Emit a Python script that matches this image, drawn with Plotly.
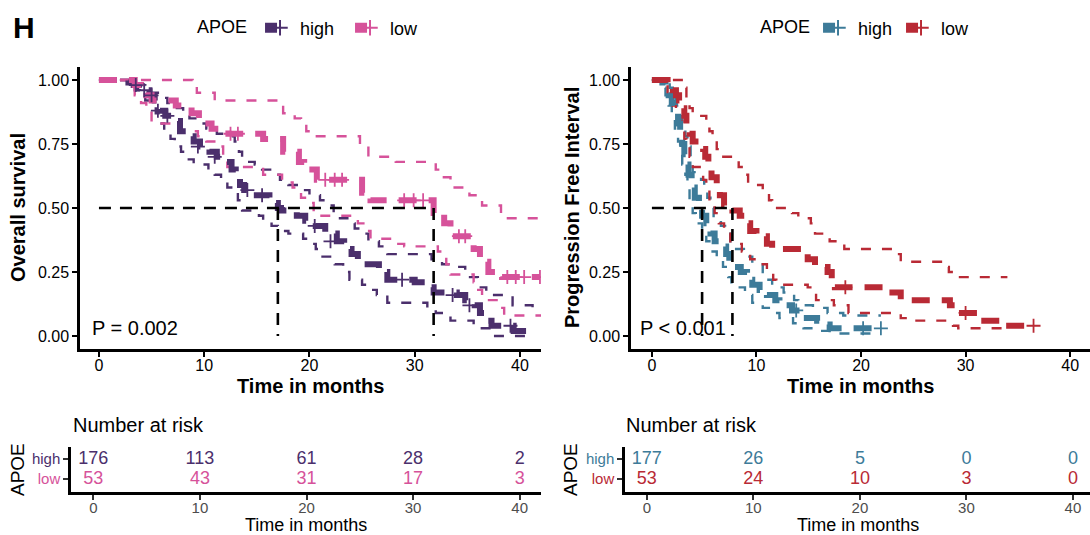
import plotly.graph_objects as go

# ---------------- DATA ----------------
groups = ["high", "low"]
risk_times = [0, 10, 20, 30, 40]

# Overall survival (left panel)
os_high_t = [0, 2.8, 3.3, 3.8, 4.3, 4.8, 5.3, 5.8, 6.3, 7.0, 7.7, 8.4, 9.0, 9.6, 10.5, 11.2, 12.0, 12.6, 13.0, 13.4, 13.8,
             15.0, 16.2, 17.0, 17.3, 18.8, 19.6, 20.6, 21.5, 22.6, 23.3, 24.0, 24.6, 25.2, 26.6, 27.4, 30.0, 31.0, 31.8,
             34.0, 34.8, 35.7, 36.2, 36.7, 37.3, 39.4, 41.2]
os_high_s = [1.0, 0.99, 0.98, 0.97, 0.96, 0.94, 0.92, 0.88, 0.86, 0.84, 0.80, 0.78, 0.76, 0.74, 0.72, 0.70, 0.68, 0.65, 0.62, 0.59, 0.57,
             0.55, 0.52, 0.50, 0.49, 0.47, 0.45, 0.43, 0.40, 0.37, 0.34, 0.32, 0.30, 0.28, 0.25, 0.22, 0.21, 0.19, 0.17,
             0.16, 0.14, 0.12, 0.09, 0.06, 0.04, 0.02, 0.0]
os_high_up_t = [0, 3.2, 3.8, 4.4, 5.6, 6.5, 7.4, 8.0, 8.6, 9.4, 10.2, 11.2, 12.0, 12.9, 13.3, 13.6, 14.8, 15.5, 16.4, 17.2, 18.0,
                19.2, 20.0, 21.0, 21.5, 22.3, 22.9, 23.6, 24.3, 25.0, 25.6, 26.6, 27.4, 31.6, 32.6, 33.8, 34.8, 36.0, 36.8,
                39.3, 41.2]
os_high_up_s = [1.0, 1.0, 0.98, 0.95, 0.93, 0.91, 0.89, 0.87, 0.85, 0.83, 0.81, 0.79, 0.78, 0.76, 0.72, 0.68, 0.67, 0.65, 0.63, 0.61, 0.59,
                0.57, 0.55, 0.53, 0.51, 0.48, 0.46, 0.44, 0.42, 0.40, 0.37, 0.35, 0.32, 0.30, 0.28, 0.27, 0.23, 0.19, 0.16,
                0.12, 0.10]
os_high_lo_t = [0, 2.8, 3.4, 3.9, 4.4, 4.9, 5.4, 5.8, 6.2, 6.8, 7.2, 7.8, 8.3, 9.0, 10.4, 11.0, 11.6, 12.2, 12.8, 13.2, 13.6,
                15.2, 15.6, 16.4, 17.0, 18.0, 19.4, 20.0, 20.6, 21.0, 22.4, 23.2, 23.8, 25.0, 25.8, 26.4, 27.4, 31.2, 32.0,
                33.4, 35.6, 37.4, 41.2]
os_high_lo_s = [1.0, 0.98, 0.96, 0.94, 0.92, 0.90, 0.87, 0.83, 0.80, 0.77, 0.74, 0.72, 0.69, 0.67, 0.65, 0.63, 0.60, 0.58, 0.56, 0.53, 0.49,
                0.47, 0.45, 0.43, 0.41, 0.40, 0.38, 0.36, 0.34, 0.31, 0.28, 0.25, 0.22, 0.20, 0.18, 0.16, 0.13, 0.11, 0.09,
                0.06, 0.03, 0.0, 0.0]
os_high_cens_t = [3.5, 4.3, 5.0, 5.6, 6.5, 9.4, 11.0, 14.1, 15.5, 17.0, 20.5, 22.0, 28.8, 33.6, 35.2, 39.1]
os_high_cens_s = [0.98, 0.96, 0.94, 0.88, 0.86, 0.74, 0.70, 0.57, 0.55, 0.50, 0.43, 0.37, 0.22, 0.16, 0.12, 0.04]

os_low_t = [0, 3.4, 4.0, 4.5, 5.0, 7.3, 8.8, 9.5, 10.1, 10.7, 12.3, 15.6, 17.5, 19.0, 19.5, 20.7, 25.0, 25.8, 31.8, 32.8,
            33.4, 35.6, 36.2, 37.0, 38.3, 41.9]
os_low_s = [1.0, 0.98, 0.96, 0.94, 0.92, 0.90, 0.87, 0.85, 0.83, 0.81, 0.79, 0.77, 0.72, 0.68, 0.65, 0.61, 0.56, 0.53, 0.48, 0.44,
            0.39, 0.34, 0.29, 0.25, 0.23, 0.23]
os_low_up_t = [0, 8.9, 9.3, 11.0, 17.0, 17.5, 18.6, 19.2, 19.7, 20.4, 24.8, 25.6, 28.2, 32.0, 32.6, 33.4, 35.2, 36.4, 38.2,
               38.5, 42.0]
os_low_up_s = [1.0, 0.98, 0.95, 0.92, 0.90, 0.87, 0.85, 0.83, 0.80, 0.78, 0.75, 0.70, 0.68, 0.65, 0.62, 0.58, 0.55, 0.51, 0.48,
               0.46, 0.46]
os_low_lo_t = [0, 3.4, 4.0, 4.5, 5.0, 7.8, 9.4, 10.2, 11.2, 11.8, 12.2, 15.6, 17.4, 18.4, 19.2, 19.8, 20.4, 24.6, 25.4, 25.8,
               28.2, 29.0, 32.2, 32.6, 33.0, 33.4, 35.6, 35.9, 36.4, 38.2, 38.5, 42.0]
os_low_lo_s = [1.0, 0.94, 0.91, 0.88, 0.83, 0.80, 0.78, 0.76, 0.74, 0.69, 0.66, 0.63, 0.60, 0.58, 0.54, 0.52, 0.47, 0.44, 0.41, 0.38,
               0.36, 0.35, 0.33, 0.31, 0.28, 0.24, 0.21, 0.18, 0.14, 0.11, 0.08, 0.08]
os_low_cens_t = [12.5, 13.2, 21.5, 22.4, 23.1, 29.0, 29.9, 30.8, 34.2, 34.8, 38.8, 39.6, 40.4, 41.9]
os_low_cens_s = [0.79, 0.79, 0.61, 0.61, 0.61, 0.53, 0.53, 0.53, 0.39, 0.39, 0.23, 0.23, 0.23, 0.23]

os_medians = [17.0, 31.8]
os_risk_high = [176, 113, 61, 28, 2]
os_risk_low = [53, 43, 31, 17, 3]
os_pvalue = "P = 0.002"

# Progression free interval (right panel)
pfi_high_t = [0, 1.0, 1.3, 1.6, 1.9, 2.2, 2.5, 2.7, 2.9, 3.1, 3.3, 3.5, 3.8, 4.1, 4.5, 4.8, 5.2, 5.6, 6.0, 6.6, 7.1, 7.4,
              7.8, 8.5, 9.1, 9.6, 10.3, 11.0, 11.8, 12.2, 13.4, 14.3, 15.8, 16.3, 17.0, 21.9]
pfi_high_s = [1.0, 0.99, 0.97, 0.94, 0.91, 0.87, 0.83, 0.79, 0.75, 0.71, 0.67, 0.63, 0.58, 0.54, 0.51, 0.47, 0.44, 0.40, 0.37, 0.35, 0.32, 0.29,
              0.27, 0.25, 0.22, 0.20, 0.18, 0.16, 0.14, 0.12, 0.10, 0.07, 0.06, 0.045, 0.03, 0.03]
pfi_high_up_t = [0, 1.4, 1.7, 2.0, 2.3, 2.6, 2.9, 3.2, 3.4, 3.7, 3.9, 4.7, 5.0, 5.3, 5.6, 5.9, 6.6, 7.0, 7.5, 7.7, 8.8, 9.6,
                 10.6, 11.0, 11.5, 12.6, 13.6, 14.0, 15.4, 16.8, 18.3, 21.9]
pfi_high_up_s = [1.0, 1.0, 0.97, 0.94, 0.90, 0.86, 0.82, 0.78, 0.74, 0.68, 0.64, 0.61, 0.58, 0.54, 0.50, 0.46, 0.43, 0.41, 0.37, 0.34, 0.31, 0.28,
                 0.25, 0.22, 0.19, 0.17, 0.14, 0.12, 0.11, 0.09, 0.08, 0.08]
pfi_high_lo_t = [0, 1.0, 1.3, 1.6, 1.9, 2.2, 2.5, 2.7, 2.9, 3.2, 3.4, 3.6, 3.9, 4.2, 4.8, 5.2, 5.5, 6.2, 6.8, 7.3, 7.6, 8.9,
                 9.6, 10.6, 11.4, 12.2, 13.5, 14.5, 16.0, 17.0, 21.9]
pfi_high_lo_s = [1.0, 0.97, 0.94, 0.90, 0.86, 0.81, 0.76, 0.72, 0.67, 0.63, 0.58, 0.53, 0.48, 0.44, 0.41, 0.37, 0.33, 0.30, 0.27, 0.23, 0.19, 0.16,
                 0.13, 0.11, 0.09, 0.07, 0.05, 0.03, 0.02, 0.01, 0.01]
pfi_high_cens_t = [13.8, 20.2, 21.9]
pfi_high_cens_s = [0.10, 0.03, 0.03]

pfi_low_t = [0, 1.5, 2.0, 2.3, 2.6, 2.9, 3.1, 3.3, 3.6, 3.9, 4.9, 5.1, 5.4, 5.7, 6.2, 6.5, 6.9, 7.7, 8.4, 8.9, 9.4, 10.0,
             11.0, 11.5, 14.3, 14.9, 15.6, 16.8, 17.2, 17.5, 22.3, 23.8, 28.5, 29.3, 31.5, 33.5, 36.5]
pfi_low_s = [1.0, 0.98, 0.96, 0.94, 0.92, 0.89, 0.86, 0.83, 0.79, 0.76, 0.73, 0.70, 0.66, 0.62, 0.58, 0.55, 0.51, 0.49, 0.47, 0.44, 0.41, 0.39,
             0.36, 0.34, 0.32, 0.30, 0.27, 0.25, 0.21, 0.19, 0.17, 0.14, 0.12, 0.09, 0.06, 0.04, 0.04]
pfi_low_up_t = [0, 3.0, 3.3, 3.6, 3.9, 5.2, 5.5, 5.8, 6.2, 6.7, 8.3, 8.8, 9.2, 10.6, 11.2, 11.5, 13.4, 14.0, 15.2, 15.6, 17.0,
                18.4, 23.4, 23.8, 27.8, 28.4, 29.0, 34.0]
pfi_low_up_s = [1.0, 0.97, 0.93, 0.89, 0.86, 0.84, 0.80, 0.77, 0.73, 0.70, 0.66, 0.63, 0.59, 0.56, 0.53, 0.50, 0.48, 0.46, 0.44, 0.40, 0.37,
                0.34, 0.32, 0.29, 0.27, 0.25, 0.23, 0.23]
pfi_low_lo_t = [0, 1.5, 2.0, 2.3, 2.6, 2.9, 3.1, 3.3, 3.6, 3.9, 4.9, 5.2, 5.5, 6.0, 6.4, 6.9, 7.5, 8.6, 9.4, 10.0, 11.0, 11.6,
                11.9, 14.9, 15.4, 15.7, 17.4, 18.8, 23.8, 24.4, 28.8, 29.3, 34.0]
pfi_low_lo_s = [1.0, 0.93, 0.90, 0.87, 0.84, 0.81, 0.77, 0.74, 0.70, 0.66, 0.61, 0.57, 0.52, 0.48, 0.44, 0.40, 0.36, 0.33, 0.30, 0.28, 0.25, 0.22,
                0.20, 0.19, 0.16, 0.14, 0.12, 0.09, 0.07, 0.06, 0.04, 0.03, 0.03]
pfi_low_cens_t = [18.5, 30.0, 36.5]
pfi_low_cens_s = [0.19, 0.09, 0.04]

pfi_medians = [4.8, 7.7]
pfi_risk_high = [177, 26, 5, 0, 0]
pfi_risk_low = [53, 24, 10, 3, 0]
pfi_pvalue = "P < 0.001"

# ---------------- STYLE ----------------
FONT = "Liberation Sans, Arial, sans-serif"
W, H = 1090, 535
C_OS = {"high": "#4B2F6C", "low": "#D6529A"}
C_PFI = {"high": "#3D7B99", "low": "#B92A35"}
MAIN_W, MAIN_DASH = 6, "18px,12px"
CI_W, CI_DASH = 2.4, "10px,11px"

def px_x(p):
    return p / W

def px_y(p):
    return 1 - p / H

fig = go.Figure()

def add_panel(xa, ya, colors, curves, medians):
    # confidence bands
    for g in groups:
        c = curves[g]
        for key in ("up", "lo"):
            t, s = c[key]
            fig.add_trace(go.Scatter(x=t, y=s, mode="lines", xaxis=xa, yaxis=ya, showlegend=False,
                                     hoverinfo="skip",
                                     line=dict(shape="hv", color=colors[g], width=CI_W, dash=CI_DASH)))
    # main curves
    for g in groups:
        t, s = curves[g]["main"]
        fig.add_trace(go.Scatter(x=t, y=s, mode="lines", xaxis=xa, yaxis=ya, showlegend=False,
                                 line=dict(shape="hv", color=colors[g], width=MAIN_W, dash=MAIN_DASH)))
    # censor marks
    for g in groups:
        t, s = curves[g]["cens"]
        fig.add_trace(go.Scatter(x=t, y=s, mode="markers", xaxis=xa, yaxis=ya, showlegend=False,
                                 marker=dict(symbol="cross-thin", size=10,
                                             line=dict(color=colors[g], width=1.8))))
    # median lines
    mx, my = [0, max(medians)], [0.5, 0.5]
    for m in medians:
        mx += [None, m, m]
        my += [None, 0.5, 0.0]
    fig.add_trace(go.Scatter(x=mx, y=my, mode="lines", xaxis=xa, yaxis=ya, showlegend=False,
                             line=dict(color="black", width=2.6, dash="12px,9px")))

add_panel("x", "y", C_OS, {
    "high": {"main": (os_high_t, os_high_s), "up": (os_high_up_t, os_high_up_s),
             "lo": (os_high_lo_t, os_high_lo_s), "cens": (os_high_cens_t, os_high_cens_s)},
    "low": {"main": (os_low_t, os_low_s), "up": (os_low_up_t, os_low_up_s),
            "lo": (os_low_lo_t, os_low_lo_s), "cens": (os_low_cens_t, os_low_cens_s)},
}, os_medians)

add_panel("x2", "y2", C_PFI, {
    "high": {"main": (pfi_high_t, pfi_high_s), "up": (pfi_high_up_t, pfi_high_up_s),
             "lo": (pfi_high_lo_t, pfi_high_lo_s), "cens": (pfi_high_cens_t, pfi_high_cens_s)},
    "low": {"main": (pfi_low_t, pfi_low_s), "up": (pfi_low_up_t, pfi_low_up_s),
            "lo": (pfi_low_lo_t, pfi_low_lo_s), "cens": (pfi_low_cens_t, pfi_low_cens_s)},
}, pfi_medians)

# legend-only entries
for leg, colors in (("legend", C_OS), ("legend2", C_PFI)):
    for g in groups:
        fig.add_trace(go.Scatter(x=[None], y=[None], mode="lines+markers", name=g, legend=leg,
                                 xaxis="x" if leg == "legend" else "x2", yaxis="y" if leg == "legend" else "y2",
                                 line=dict(color=colors[g], width=10, dash="12px,40px"),
                                 marker=dict(symbol="cross-thin", size=11, line=dict(color=colors[g], width=2))))

# risk tables
for xa, ya, colors, rh, rl in (("x3", "y3", C_OS, os_risk_high, os_risk_low),
                                ("x4", "y4", C_PFI, pfi_risk_high, pfi_risk_low)):
    for g, vals, yv in (("high", rh, 2), ("low", rl, 1)):
        fig.add_trace(go.Scatter(x=risk_times, y=[yv] * len(risk_times), mode="text", xaxis=xa, yaxis=ya,
                                 text=[str(v) for v in vals], showlegend=False,
                                 textfont=dict(family=FONT, size=18, color=colors[g])))

axis_common = dict(showgrid=False, zeroline=False, showline=True, linecolor="black", linewidth=2.5,
                   ticks="outside", ticklen=5, tickwidth=2, tickcolor="black",
                   tickfont=dict(family=FONT, size=16, color="black"))
ytick = dict(tickvals=[0, 0.25, 0.5, 0.75, 1.0], ticktext=["0.00", "0.25", "0.50", "0.75", "1.00"])
xtick = dict(tickvals=risk_times)

tab_x = dict(axis_common, tickfont=dict(family=FONT, size=15, color="#4D4D4D"), tickcolor="#333333",
             ticklabelstandoff=-5)

def ytab(colors):
    return dict(axis_common, range=[0.35, 2.6], tickvals=[2, 1],
                ticktext=[f"<span style='color:{colors[g]}'>{g}</span>" for g in groups],
                tickfont=dict(family=FONT, size=15), tickcolor="#333333")

fig.update_layout(
    width=W, height=H, margin=dict(l=0, r=0, t=0, b=0),
    paper_bgcolor="white", plot_bgcolor="white",
    font=dict(family=FONT, color="black"),
    xaxis=dict(axis_common, domain=[px_x(80), px_x(541)], range=[-1.8, 42], anchor="y",
               ticklabelstandoff=-5, **xtick),
    yaxis=dict(axis_common, domain=[px_y(348.8), px_y(67.2)], range=[-0.05, 1.05], anchor="x", **ytick),
    xaxis2=dict(axis_common, domain=[px_x(631), 1.0], range=[-2.0, 41.9], anchor="y2",
                ticklabelstandoff=-5, **xtick),
    yaxis2=dict(axis_common, domain=[px_y(348.8), px_y(67.2)], range=[-0.05, 1.05], anchor="x2", **ytick),
    xaxis3=dict(tab_x, domain=[px_x(71), px_x(541)], range=[-2.1, 42], anchor="y3", **xtick),
    yaxis3=dict(ytab(C_OS), domain=[px_y(492), px_y(447)], anchor="x3"),
    xaxis4=dict(tab_x, domain=[px_x(625), 1.0], range=[-2.05, 41.6], anchor="y4", **xtick),
    yaxis4=dict(ytab(C_PFI), domain=[px_y(492), px_y(447)], anchor="x4"),
    legend=dict(orientation="h", x=px_x(195), y=px_y(28), xanchor="left", yanchor="middle",
                title=dict(text="APOE ", font=dict(family=FONT, size=18)),
                font=dict(family=FONT, size=18), itemwidth=30, entrywidth=45, bgcolor="rgba(0,0,0,0)"),
    legend2=dict(orientation="h", x=px_x(758), y=px_y(28), xanchor="left", yanchor="middle",
                 title=dict(text="APOE", font=dict(family=FONT, size=18)),
                 font=dict(family=FONT, size=18), itemwidth=30, entrywidth=38, bgcolor="rgba(0,0,0,0)"),
)

ann = []
def A(text, x, y, size, bold=False, angle=0, xanchor="center", xref="paper", yref="paper", color="black"):
    ann.append(dict(text=f"<b>{text}</b>" if bold else text, x=x, y=y, xref=xref, yref=yref, showarrow=False,
                    textangle=angle, xanchor=xanchor, yanchor="middle",
                    font=dict(family=FONT, size=size, color=color)))

A("H", px_x(11), px_y(27), 30, bold=True, xanchor="left")
A("Overall survival", px_x(18), px_y(208), 20, bold=True, angle=-90)
A("Progression Free Interval", px_x(572), px_y(208), 20, bold=True, angle=-90)
A("Time in months", px_x(310.5), px_y(386), 20, bold=True)
A("Time in months", px_x(860), px_y(386), 20, bold=True)
A("Number at risk", px_x(71), px_y(425), 20, xanchor="left")
A("Number at risk", px_x(624), px_y(425), 20, xanchor="left")
A("APOE", px_x(17), px_y(470), 19, angle=-90)
A("APOE", px_x(570), px_y(470), 19, angle=-90)
A("Time in months", px_x(306), px_y(525), 18)
A("Time in months", px_x(858), px_y(525), 18)
A(os_pvalue, -0.85, 0.03, 20, xanchor="left", xref="x", yref="y")
A(pfi_pvalue, -1.3, 0.03, 20, xanchor="left", xref="x2", yref="y2")
fig.update_layout(annotations=ann)

fig.write_html("out.html", config={"displayModeBar": False},
               post_script="document.body.style.margin='0';document.body.style.overflow='hidden';")
